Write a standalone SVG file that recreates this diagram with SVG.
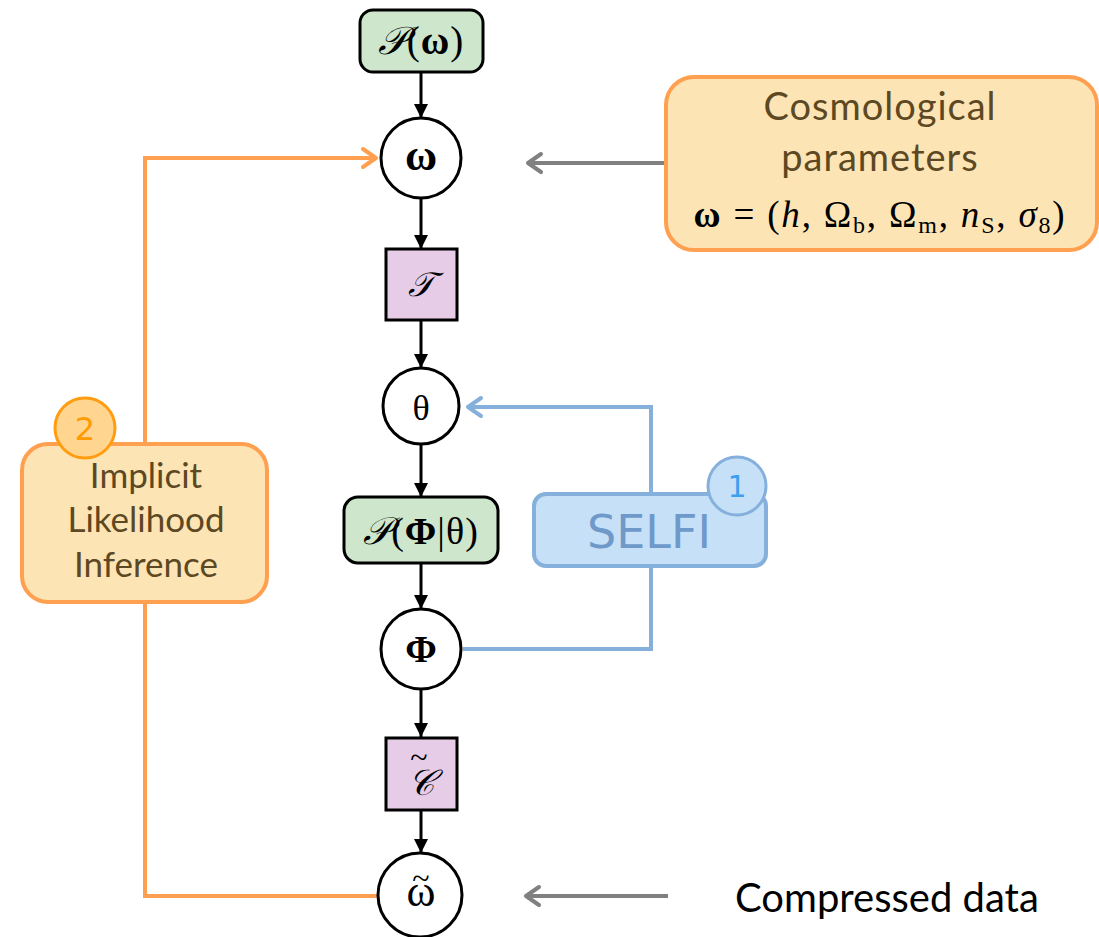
<svg xmlns="http://www.w3.org/2000/svg" width="1099" height="937" viewBox="0 0 1099 937">
<defs>
<style>
.node{stroke:#000;stroke-width:3}
.green{fill:#cde6cc}
.purple{fill:#e6cce6}
.circ{fill:#fff}
.math{font-family:"Liberation Serif","DejaVu Serif",serif;fill:#000;text-anchor:middle}
.lbl{font-family:Lato,"Open Sans",sans-serif;text-anchor:middle}
.orangebox{fill:#fde4b4;stroke:#ff9f50;stroke-width:4}
.brown{fill:#5c4822}
.blk{stroke:#000;stroke-width:3;fill:none}
</style>
<marker id="ahB" viewBox="-14 -8 15 16" markerWidth="15" markerHeight="16" refX="0" refY="0" orient="auto" markerUnits="userSpaceOnUse">
<path d="M-14,-7 L0,0 L-14,7 Z" fill="#000"/>
</marker>
<marker id="ahO" viewBox="-16 -12 19 24" markerWidth="19" markerHeight="24" refX="0" refY="0" orient="auto" markerUnits="userSpaceOnUse">
<path d="M-13,-9 L0,0 L-13,9" fill="none" stroke="#ff9f50" stroke-width="4" stroke-linecap="round" stroke-linejoin="round"/>
</marker>
<marker id="ahL" viewBox="-16 -12 19 24" markerWidth="19" markerHeight="24" refX="0" refY="0" orient="auto" markerUnits="userSpaceOnUse">
<path d="M-13,-9 L0,0 L-13,9" fill="none" stroke="#85b0dc" stroke-width="4" stroke-linecap="round" stroke-linejoin="round"/>
</marker>
<marker id="ahG" viewBox="-16 -12 19 24" markerWidth="19" markerHeight="24" refX="0" refY="0" orient="auto" markerUnits="userSpaceOnUse">
<path d="M-13,-9 L0,0 L-13,9" fill="none" stroke="#808080" stroke-width="4" stroke-linecap="round" stroke-linejoin="round"/>
</marker>
</defs>
<rect width="1099" height="937" fill="#fff"/>

<g id="connectors">
<polyline points="378,896 145,896 145,158 376,158" fill="none" stroke="#ff9f50" stroke-width="4" marker-end="url(#ahO)"/>
<polyline points="463,649 651,649 651,407 468,407" fill="none" stroke="#85b0dc" stroke-width="4" marker-end="url(#ahL)"/>
<line x1="665" y1="163" x2="528" y2="163" stroke="#808080" stroke-width="4" marker-end="url(#ahG)"/>
<line x1="668" y1="896" x2="526" y2="896" stroke="#808080" stroke-width="4" marker-end="url(#ahG)"/>
<line class="blk" x1="421" y1="72" x2="421" y2="118" marker-end="url(#ahB)"/>
<line class="blk" x1="421" y1="199" x2="421" y2="249" marker-end="url(#ahB)"/>
<line class="blk" x1="421" y1="321" x2="421" y2="368" marker-end="url(#ahB)"/>
<line class="blk" x1="421" y1="444" x2="421" y2="497" marker-end="url(#ahB)"/>
<line class="blk" x1="421" y1="563" x2="421" y2="609" marker-end="url(#ahB)"/>
<line class="blk" x1="421" y1="690" x2="421" y2="737" marker-end="url(#ahB)"/>
<line class="blk" x1="421" y1="811" x2="421" y2="853" marker-end="url(#ahB)"/>
</g>

<g id="node-prior">
<rect class="node green" x="360" y="10" width="123" height="62" rx="13"/>
<text class="math" x="421" y="54" font-size="39" letter-spacing="1"><tspan font-style="italic">𝒫</tspan>(<tspan font-weight="bold">ω</tspan>)</text>
</g>
<g id="node-omega">
<circle class="node circ" cx="421" cy="158" r="40"/>
<text class="math" x="421" y="170" font-size="44" font-weight="bold">ω</text>
</g>
<g id="node-T">
<rect class="node purple" x="386" y="249" width="71" height="71"/>
<text class="math" x="421" y="296" font-size="34" font-style="italic">𝒯</text>
</g>
<g id="node-theta">
<circle class="node circ" cx="421" cy="406" r="38"/>
<text class="math" x="421" y="420" font-size="36">θ</text>
</g>
<g id="node-likelihood">
<rect class="node green" x="344" y="497" width="154" height="66" rx="14"/>
<text class="math" x="421" y="544" font-size="38" letter-spacing="1"><tspan font-style="italic">𝒫</tspan>(<tspan font-weight="bold">Φ</tspan>|θ)</text>
</g>
<g id="node-Phi">
<circle class="node circ" cx="421" cy="649" r="40"/>
<text class="math" x="421" y="662" font-size="38" font-weight="bold">Φ</text>
</g>
<g id="node-C">
<rect class="node purple" x="386" y="738" width="71" height="72"/>
<text class="math" x="421" y="795" font-size="36" font-style="italic">𝒞<tspan x="419" y="768" font-size="32" font-style="normal">~</tspan></text>
</g>
<g id="node-omegatilde">
<circle class="node circ" cx="420" cy="895" r="42"/>
<text class="math" x="421" y="906" font-size="44">ω<tspan x="421" y="889" font-size="32">~</tspan></text>
</g>

<g id="node-cosmo">
<rect class="orangebox" x="666" y="77" width="431" height="173" rx="28"/>
<text class="lbl brown" x="880" y="120" font-size="38" letter-spacing="1">Cosmological</text>
<text class="lbl brown" x="880" y="171" font-size="38" letter-spacing="1">parameters</text>
<text class="math" x="880" y="227" font-size="37" letter-spacing="1.8"><tspan font-weight="bold">ω</tspan> = (<tspan font-style="italic">h</tspan>, Ω<tspan font-size="24" dy="6">b</tspan><tspan dy="-6">, Ω</tspan><tspan font-size="24" dy="6">m</tspan><tspan dy="-6">, </tspan><tspan font-style="italic">n</tspan><tspan font-size="24" dy="6">S</tspan><tspan dy="-6">, </tspan><tspan font-style="italic">σ</tspan><tspan font-size="24" dy="6">8</tspan><tspan dy="-6">)</tspan></text>
</g>

<g id="node-selfi">
<rect x="534" y="494" width="232" height="72" rx="12" fill="#c6e0f7" stroke="#85b0dc" stroke-width="4"/>
<text x="649" y="548" font-family="'DejaVu Sans',sans-serif" font-size="46" fill="#6e99c9" text-anchor="middle">SELFI</text>
<circle cx="737" cy="486" r="29" fill="#c6e0f7" stroke="#85b0dc" stroke-width="3"/>
<text x="737" y="497" font-family="'DejaVu Sans',sans-serif" font-size="30" fill="#3f9fef" text-anchor="middle">1</text>
</g>

<g id="node-ili">
<rect class="orangebox" x="22" y="444" width="245" height="158" rx="26"/>
<text class="lbl brown" x="146" y="488" font-size="35">Implicit</text>
<text class="lbl brown" x="146" y="532" font-size="35">Likelihood</text>
<text class="lbl brown" x="146" y="577" font-size="35">Inference</text>
<circle cx="85" cy="428" r="30" fill="#ffd58f" stroke="#ff9c10" stroke-width="3"/>
<text x="85" y="440" font-family="'DejaVu Sans',sans-serif" font-size="32" fill="#ff9a00" text-anchor="middle">2</text>
</g>

<g id="label-compressed">
<text x="735" y="912" font-family="Lato,'Open Sans',sans-serif" font-size="40" fill="#000">Compressed data</text>
</g>
</svg>
